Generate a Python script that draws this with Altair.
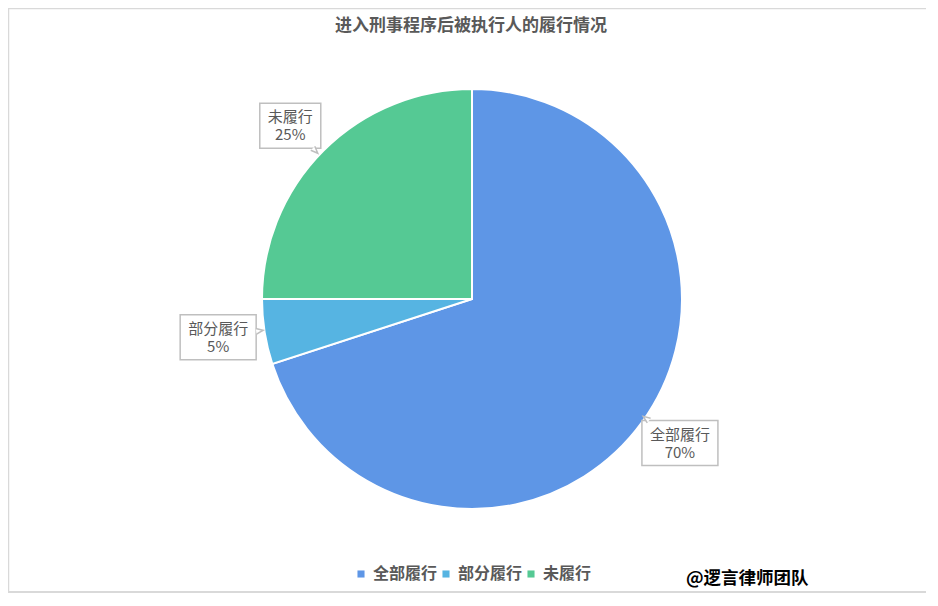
import altair as alt
import pandas as pd

# ---- data ----
categories = ["全部履行", "部分履行", "未履行"]
values = [70, 5, 25]
pct_labels = ["70%", "5%", "25%"]
colors = ["#5E96E6", "#56B4E2", "#55C994"]
title_text = "进入刑事程序后被执行人的履行情况"
watermark_text = "@逻言律师团队"

# ---- layout constants ----
W, H = 918, 585
CX, CY = 464, 291
R = 210
LRX, LRY = 257, 245
FONT = "Noto Sans CJK SC"
GRAY = "#595959"
BOX = "#BFBFBF"
FRAME = "#D9D9D9"

df = pd.DataFrame({"cat": categories, "value": values, "pct": pct_labels,
                   "order": list(range(len(categories)))})
one = pd.DataFrame({"k": [0]})

xs = alt.Scale(domain=[0, W], range=[0, W], nice=False, zero=False)
ys = alt.Scale(domain=[0, H], range=[0, H], nice=False, zero=False)

geo = (
    alt.Chart(df)
    .transform_window(cum="sum(value)", sort=[alt.SortField("order")], frame=[None, 0])
    .transform_joinaggregate(total="sum(value)")
    .transform_calculate(mid="(datum.cum - datum.value/2)/datum.total*2*PI")
    .transform_calculate(
        bx=f"{CX} + {LRX}*sin(datum.mid)",
        by=f"{CY} - {LRY}*cos(datum.mid)",
        hw="(15*length(datum.cat) + 16)/2",
        hh="22.5",
        ux="-sin(datum.mid)",
        uy="cos(datum.mid)",
        tang="(datum.mid*180/PI + 180) % 360",
    )
    .transform_calculate(
        x1="datum.bx - datum.hw", x2="datum.bx + datum.hw",
        y1="datum.by - datum.hh", y2="datum.by + datum.hh",
        t="min(datum.hw/max(abs(datum.ux),1e-6), datum.hh/max(abs(datum.uy),1e-6))",
    )
    .transform_calculate(
        tx="datum.bx + datum.t*datum.ux",
        ty="datum.by + datum.t*datum.uy",
    )
)

pie = alt.Chart(df).mark_arc(x=CX, y=CY, outerRadius=R, stroke="white", strokeWidth=2).encode(
    theta=alt.Theta("value:Q", stack=True),
    color=alt.Color(
        "cat:N",
        scale=alt.Scale(domain=categories, range=colors),
        sort=categories,
        legend=alt.Legend(
            title=None, orient="none", direction="horizontal",
            legendX=345, legendY=558, padding=0,
            symbolType="square", symbolSize=50, symbolStrokeWidth=0,
            labelFont=FONT, labelFontSize=16, labelFontWeight="bold", labelColor=GRAY,
            labelOffset=4, columnPadding=-3,
        ),
    ),
    order=alt.Order("order:Q"),
)

boxes = geo.mark_rect(fill="white", stroke=BOX, strokeWidth=1.5).encode(
    x=alt.X("x1:Q", scale=xs, axis=None), x2="x2:Q",
    y=alt.Y("y1:Q", scale=ys, axis=None), y2="y2:Q",
)

tails = geo.mark_point(
    shape="M -0.4,0 L 0,-1 L 0.4,0", filled=True, fill="white", stroke=BOX,
    strokeWidth=1.5, size=200, opacity=1,
).encode(
    x=alt.X("tx:Q", scale=xs, axis=None),
    y=alt.Y("ty:Q", scale=ys, axis=None),
    angle=alt.Angle("tang:Q", scale=None),
)

cat_text = geo.mark_text(
    font=FONT, fontSize=15, color=GRAY, baseline="middle", dy=-8.5,
).encode(
    x=alt.X("bx:Q", scale=xs, axis=None),
    y=alt.Y("by:Q", scale=ys, axis=None),
    text="cat:N",
)
pct_text = geo.mark_text(
    font=FONT, fontSize=15, color=GRAY, baseline="middle", dy=9.5,
).encode(
    x=alt.X("bx:Q", scale=xs, axis=None),
    y=alt.Y("by:Q", scale=ys, axis=None),
    text="pct:N",
)

title = alt.Chart(one).mark_text(
    x=463, y=18, font=FONT, fontSize=17, fontWeight="bold", color=GRAY, baseline="middle",
).encode(text=alt.value(title_text))

wm = alt.Chart(one).mark_text(
    x=678, y=571, font=FONT, fontSize=17.5, fontWeight="bold", color="#000000",
    align="left", baseline="middle",
).encode(text=alt.value(watermark_text))

frame_left = alt.Chart(one).mark_rule(color=FRAME, strokeWidth=1.5).encode(
    x=alt.value(0.5), y=alt.value(0), y2=alt.value(H))
frame_top = alt.Chart(one).mark_rule(color=FRAME, strokeWidth=1.5).encode(
    y=alt.value(0.5), x=alt.value(0), x2=alt.value(W))
frame_bottom = alt.Chart(one).mark_rule(color=FRAME, strokeWidth=2).encode(
    y=alt.value(H - 1), x=alt.value(0), x2=alt.value(W))

chart = (
    alt.layer(frame_left, frame_top, frame_bottom, pie, boxes, tails, cat_text, pct_text, title, wm)
    .properties(width=W, height=H, padding=0, autosize="none", background="white")
    .configure_view(strokeWidth=0)
)

chart.save("out.html", embed_options={"renderer": "svg", "actions": False})
